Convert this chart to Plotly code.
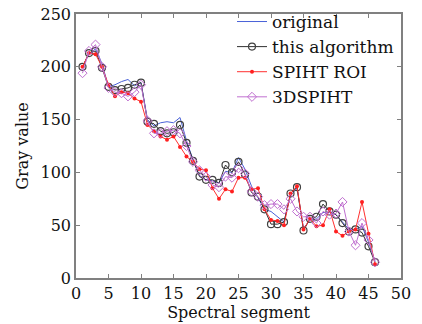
import plotly.graph_objects as go

segments = list(range(1, 47))
original = [200, 212, 217, 203, 181, 183, 186, 188, 182, 185, 150, 144, 147, 148, 147, 152, 130, 112, 97, 93,
            92, 90, 101, 100, 114, 103, 87, 76, 65, 63, 58, 53, 78, 85, 47, 55, 56, 62, 62, 60,
            53, 46, 46, 49, 34, 16]
this_algorithm = [200, 213, 215, 199, 181, 178, 179, 180, 183, 185, 148, 146, 139, 137, 138, 145, 128, 111, 96, 93,
                  93, 90, 107, 100, 110, 98, 81, 77, 65, 51, 51, 53, 80, 86, 45, 56, 58, 70, 63, 60,
                  52, 44, 46, 43, 30, 15]
spiht_roi = [200, 213, 212, 200, 183, 172, 176, 175, 170, 167, 145, 139, 134, 131, 134, 124, 115, 110, 103, 102,
             85, 75, 84, 82, 95, 95, 84, 85, 65, 55, 54, 50, 80, 87, 46, 56, 49, 50, 65, 44,
             40, 44, 46, 72, 42, 13]
spiht_3d = [194, 215, 221, 200, 180, 176, 175, 172, 176, 183, 149, 137, 137, 139, 140, 137, 125, 110, 102, 96,
            88, 86, 96, 95, 104, 99, 82, 77, 69, 70, 70, 65, 75, 63, 58, 58, 52, 63, 60, 61,
            72, 44, 31, 52, 36, 15]
x_ticks = [0, 5, 10, 15, 20, 25, 30, 35, 40, 45, 50]
y_ticks = [0, 50, 100, 150, 200, 250]

FONT = "DejaVu Serif"

fig = go.Figure()
fig.add_trace(go.Scatter(x=segments, y=original, name="original", mode="lines",
                         line=dict(color="#4a62d8", width=1)))
fig.add_trace(go.Scatter(x=segments, y=this_algorithm, name="this algorithm", mode="lines+markers",
                         line=dict(color="#303030", width=1),
                         marker=dict(symbol="circle-open", size=7, color="#404040", line=dict(width=1.2))))
fig.add_trace(go.Scatter(x=segments, y=spiht_roi, name="SPIHT ROI", mode="lines+markers",
                         line=dict(color="#ff3030", width=1),
                         marker=dict(symbol="circle", size=4, color="#ff2020")))
fig.add_trace(go.Scatter(x=segments, y=spiht_3d, name="3DSPIHT", mode="lines+markers",
                         line=dict(color="#c070d0", width=1),
                         marker=dict(symbol="diamond-open", size=7, color="#c070d0", line=dict(width=1))))

axis_common = dict(showline=True, linecolor="#808080", linewidth=1.5, mirror="ticks",
                   ticks="inside", ticklen=4, tickcolor="#808080", showgrid=False, zeroline=False,
                   tickfont=dict(family=FONT, size=16, color="#111111"))
fig.update_xaxes(range=[0, 50], tickvals=x_ticks,
                 title=dict(text="Spectral segment", font=dict(family=FONT, size=16, color="#111111"), standoff=2),
                 **axis_common)
fig.update_yaxes(range=[0, 250], tickvals=y_ticks,
                 title=dict(text="Gray value", font=dict(family=FONT, size=16, color="#111111"), standoff=8),
                 **axis_common)

fig.update_layout(
    width=422, height=324,
    margin=dict(l=76, r=21, t=14, b=46, autoexpand=False),
    paper_bgcolor="white", plot_bgcolor="white",
    showlegend=True,
    legend=dict(x=0.48, y=1.038, xanchor="left", yanchor="top", bgcolor="rgba(0,0,0,0)",
                font=dict(family=FONT, size=17, color="#111111"), itemwidth=30,
                tracegroupgap=0, borderwidth=0),
    font=dict(family=FONT),
)

fig.write_html("out.html")
